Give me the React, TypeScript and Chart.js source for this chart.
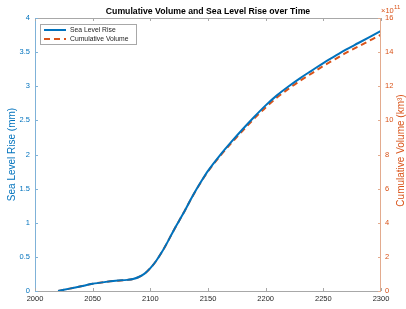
import React, { useEffect, useRef } from "react";
import { Chart, registerables } from "chart.js";

Chart.register(...registerables);

const titleText = "Cumulative Volume and Sea Level Rise over Time";
const leftAxisTitle = "Sea Level Rise (mm)";
const rightAxisTitle = "Cumulative Volume (km³)";
const seriesLabels = ["Sea Level Rise", "Cumulative Volume"];

const years = [2020, 2030, 2040, 2050, 2060, 2070, 2080, 2085, 2090, 2095, 2100, 2105, 2110, 2115, 2120, 2125, 2130, 2135, 2140, 2145, 2150, 2160, 2170, 2180, 2190, 2200, 2210, 2220, 2230, 2240, 2250, 2260, 2270, 2280, 2290, 2300];
const seaLevelMm = [0, 0.035, 0.07, 0.105, 0.13, 0.15, 0.163, 0.175, 0.205, 0.255, 0.335, 0.44, 0.57, 0.72, 0.88, 1.03, 1.18, 1.34, 1.49, 1.63, 1.76, 1.98, 2.18, 2.37, 2.55, 2.72, 2.87, 3.0, 3.12, 3.23, 3.34, 3.44, 3.54, 3.63, 3.72, 3.81];
const volumeE11 = [0, 0.14, 0.28, 0.42, 0.52, 0.6, 0.65, 0.7, 0.82, 1.02, 1.34, 1.76, 2.28, 2.88, 3.52, 4.12, 4.72, 5.35, 5.95, 6.5, 7.01, 7.87, 8.65, 9.39, 10.1, 10.76, 11.35, 11.86, 12.33, 12.76, 13.19, 13.58, 13.97, 14.32, 14.67, 15.02];

const BLUE = "#0072BD";
const ORANGE = "#D95319";
const FONT = "'Liberation Sans', Arial, Helvetica, sans-serif";

const decorPlugin = {
  id: "decor",
  afterDraw(chart: any) {
    const { ctx, chartArea } = chart;
    const { left, right, top, bottom } = chartArea;
    const xs = chart.scales.x;
    const ys = chart.scales.y;
    const y1 = chart.scales.y1;
    ctx.save();
    ctx.lineWidth = 1;
    ctx.strokeStyle = "#a8a8a8";
    ctx.beginPath();
    ctx.moveTo(left, top + 0.5);
    ctx.lineTo(right, top + 0.5);
    ctx.moveTo(left, bottom + 0.5);
    ctx.lineTo(right, bottom + 0.5);
    ctx.stroke();
    ctx.strokeStyle = "#7fb2d8";
    ctx.beginPath();
    ctx.moveTo(left + 0.5, top);
    ctx.lineTo(left + 0.5, bottom);
    ctx.stroke();
    ctx.strokeStyle = "#e3ab8e";
    ctx.beginPath();
    ctx.moveTo(right - 0.5, top);
    ctx.lineTo(right - 0.5, bottom);
    ctx.stroke();
    ctx.strokeStyle = "#a8a8a8";
    ctx.beginPath();
    xs.ticks.forEach((t: any) => {
      const px = Math.round(xs.getPixelForValue(t.value)) + 0.5;
      ctx.moveTo(px, bottom);
      ctx.lineTo(px, bottom - 3);
      ctx.moveTo(px, top);
      ctx.lineTo(px, top + 3);
    });
    ctx.stroke();
    ctx.strokeStyle = "#7fb2d8";
    ctx.beginPath();
    ys.ticks.forEach((t: any) => {
      const py = Math.round(ys.getPixelForValue(t.value)) + 0.5;
      ctx.moveTo(left, py);
      ctx.lineTo(left + 3, py);
    });
    ctx.stroke();
    ctx.strokeStyle = "#e3ab8e";
    ctx.beginPath();
    y1.ticks.forEach((t: any) => {
      const py = Math.round(y1.getPixelForValue(t.value)) + 0.5;
      ctx.moveTo(right, py);
      ctx.lineTo(right - 3, py);
    });
    ctx.stroke();

    ctx.fillStyle = "#000";
    ctx.font = `bold 8.7px ${FONT}`;
    ctx.textAlign = "center";
    ctx.textBaseline = "middle";
    ctx.fillText(titleText, (left + right) / 2, 12);

    ctx.fillStyle = ORANGE;
    ctx.textAlign = "left";
    ctx.font = `7.5px ${FONT}`;
    ctx.fillText("×10", right, 11);
    ctx.font = `6px ${FONT}`;
    ctx.fillText("11", right + 13, 7);

    ctx.save();
    ctx.translate(401, (top + bottom) / 2 - 4);
    ctx.rotate(-Math.PI / 2);
    ctx.font = `10px ${FONT}`;
    ctx.fillStyle = ORANGE;
    ctx.textAlign = "center";
    ctx.textBaseline = "middle";
    ctx.fillText(rightAxisTitle, 0, 0);
    ctx.restore();

    const lx = left + 5;
    const ly = top + 6;
    const lw = 96;
    const lh = 20;
    ctx.fillStyle = "#fff";
    ctx.fillRect(lx, ly, lw, lh);
    ctx.strokeStyle = "#a8a8a8";
    ctx.lineWidth = 1;
    ctx.strokeRect(lx + 0.5, ly + 0.5, lw, lh);
    chart.data.datasets.forEach((ds: any, i: number) => {
      const rowY = ly + 6 + i * 9;
      ctx.strokeStyle = ds.borderColor;
      ctx.lineWidth = 2;
      ctx.setLineDash(ds.borderDash || []);
      ctx.beginPath();
      ctx.moveTo(lx + 4, rowY);
      ctx.lineTo(lx + 26, rowY);
      ctx.stroke();
      ctx.setLineDash([]);
      ctx.fillStyle = "#262626";
      ctx.font = `6.8px ${FONT}`;
      ctx.textAlign = "left";
      ctx.textBaseline = "middle";
      ctx.fillText(ds.label, lx + 30, rowY);
    });
    ctx.restore();
  },
};

export default function App() {
  const ref = useRef<HTMLCanvasElement>(null);
  useEffect(() => {
    document.body.style.margin = "0";
    const chart = new Chart(ref.current as HTMLCanvasElement, {
      type: "line",
      data: {
        datasets: [
          {
            label: seriesLabels[0],
            data: years.map((x, i) => ({ x, y: seaLevelMm[i] })),
            borderColor: BLUE,
            backgroundColor: BLUE,
            borderWidth: 2,
            pointRadius: 0,
            cubicInterpolationMode: "monotone",
            yAxisID: "y",
          },
          {
            label: seriesLabels[1],
            data: years.map((x, i) => ({ x, y: volumeE11[i] })),
            borderColor: ORANGE,
            backgroundColor: ORANGE,
            borderWidth: 2,
            borderDash: [6, 4],
            pointRadius: 0,
            cubicInterpolationMode: "monotone",
            yAxisID: "y1",
          },
        ],
      },
      options: {
        animation: false,
        responsive: false,
        layout: { padding: { top: 18, left: 0, right: 0, bottom: 0 } },
        plugins: { legend: { display: false }, title: { display: false }, tooltip: { enabled: false } },
        scales: {
          x: {
            type: "linear",
            min: 2000,
            max: 2300,
            grid: { display: false, drawTicks: false },
            border: { display: false },
            ticks: { stepSize: 50, color: "#262626", padding: 3, maxRotation: 0, font: { size: 7.5, family: FONT }, callback: (v: any) => String(v) },
            afterFit: (s: any) => { s.height = 18; },
          },
          y: {
            position: "left",
            min: 0,
            max: 4,
            grid: { display: false, drawTicks: false },
            border: { display: false },
            ticks: { stepSize: 0.5, color: BLUE, padding: 5, font: { size: 7.5, family: FONT }, callback: (v: any) => String(v) },
            title: { display: true, text: leftAxisTitle, color: BLUE, padding: { top: 6, bottom: 0 }, font: { size: 10, family: FONT } },
            afterFit: (s: any) => { s.width = 35; },
          },
          y1: {
            position: "right",
            min: 0,
            max: 16,
            grid: { display: false, drawTicks: false },
            border: { display: false },
            ticks: { stepSize: 2, color: ORANGE, padding: 4, font: { size: 7.5, family: FONT }, callback: (v: any) => String(v) },
            afterFit: (s: any) => { s.width = 25; },
          },
        },
      },
      plugins: [decorPlugin],
    });
    return () => chart.destroy();
  }, []);
  return (
    <div style={{ width: 406, height: 309 }}>
      <canvas ref={ref} width={406} height={309} style={{ display: "block" }} />
    </div>
  );
}
